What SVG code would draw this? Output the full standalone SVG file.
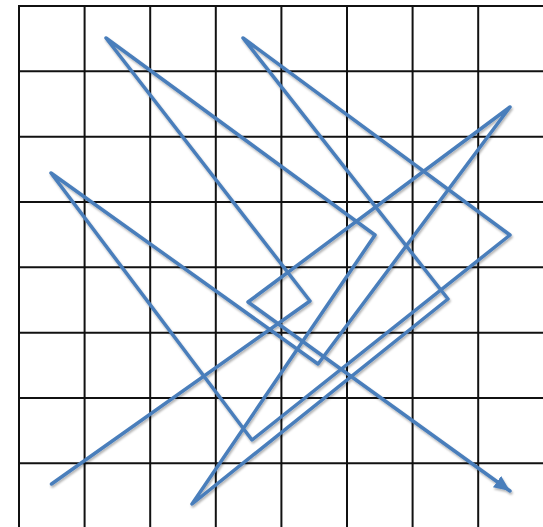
<svg xmlns="http://www.w3.org/2000/svg" width="543" height="527" viewBox="0 0 543 527">
  <style>
    .grid line { stroke: #111; stroke-width: 2; }
    .route { fill: none; stroke: #4a7ebb; stroke-width: 3.5; stroke-linejoin: round; stroke-linecap: round; }
  </style>
  <defs>
    <filter id="shadow" x="-10%" y="-10%" width="120%" height="120%">
      <feDropShadow dx="1" dy="2" stdDeviation="1.2" flood-color="#000" flood-opacity="0.3"/>
    </filter>
    <marker id="arrow" markerUnits="userSpaceOnUse" markerWidth="20" markerHeight="16" refX="16" refY="7" orient="auto">
      <path d="M0,0 L16,7 L0,14 Z" fill="#4a7ebb"/>
    </marker>
  </defs>
  <rect width="543" height="527" fill="#ffffff"/>
  <g id="grid" class="grid">
    <line x1="19" y1="6" x2="19" y2="527"/>
    <line x1="84.6" y1="6" x2="84.6" y2="527"/>
    <line x1="150.2" y1="6" x2="150.2" y2="527"/>
    <line x1="215.8" y1="6" x2="215.8" y2="527"/>
    <line x1="281.4" y1="6" x2="281.4" y2="527"/>
    <line x1="347" y1="6" x2="347" y2="527"/>
    <line x1="412.6" y1="6" x2="412.6" y2="527"/>
    <line x1="478.2" y1="6" x2="478.2" y2="527"/>
    <line x1="18" y1="6" x2="543" y2="6"/>
    <line x1="18" y1="71.3" x2="543" y2="71.3"/>
    <line x1="18" y1="136.7" x2="543" y2="136.7"/>
    <line x1="18" y1="202" x2="543" y2="202"/>
    <line x1="18" y1="267.3" x2="543" y2="267.3"/>
    <line x1="18" y1="332.7" x2="543" y2="332.7"/>
    <line x1="18" y1="398" x2="543" y2="398"/>
    <line x1="18" y1="463.3" x2="543" y2="463.3"/>
  </g>
  <g id="connectors" filter="url(#shadow)">
    <path class="route" marker-end="url(#arrow)" d="M51.5,484 L310,301 L106,38 L375,235 L192,504 L448,299 L243,38 L510,235 L252,440 L51,173 L318,364 L510,107 L248,302 L510,491"/>
  </g>
</svg>
